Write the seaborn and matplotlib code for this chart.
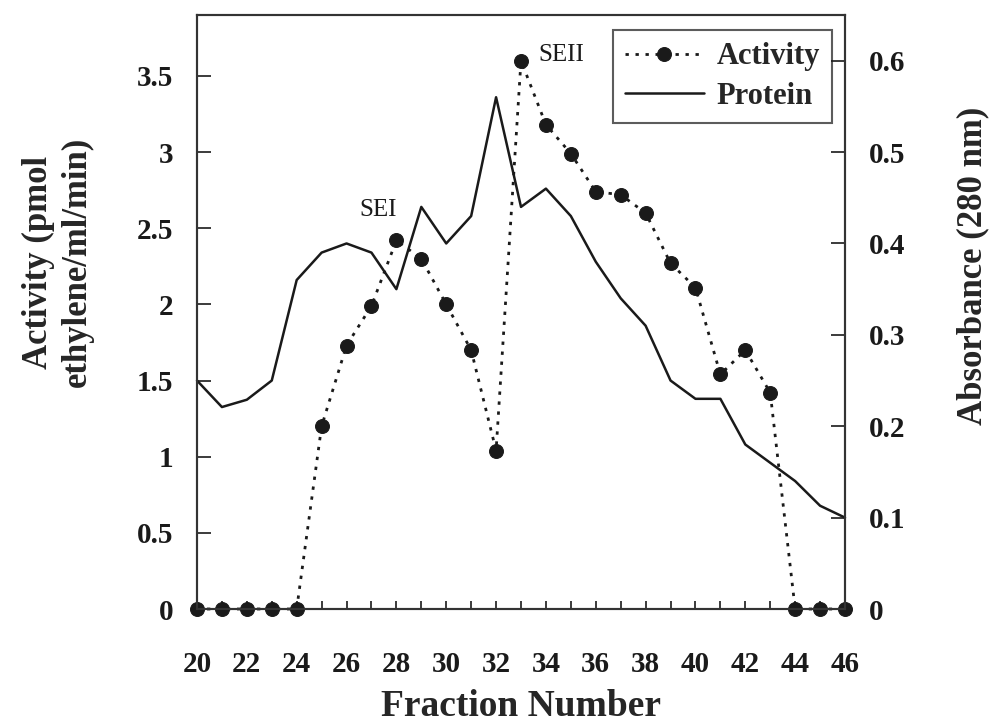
import matplotlib
matplotlib.use("Agg")
import matplotlib.pyplot as plt
import seaborn as sns
import numpy as np
import pandas as pd

fractions = [20, 21, 22, 23, 24, 25, 26, 27, 28, 29, 30, 31, 32, 33,
             34, 35, 36, 37, 38, 39, 40, 41, 42, 43, 44, 45, 46]
activity = [0, 0, 0, 0, 0, 1.2, 1.73, 1.99, 2.42, 2.3, 2.0, 1.7, 1.04, 3.6,
            3.18, 2.99, 2.74, 2.72, 2.6, 2.27, 2.11, 1.54, 1.7, 1.42, 0, 0, 0]
protein = [0.25, 0.221, 0.229, 0.25, 0.36, 0.39, 0.40, 0.39, 0.35, 0.44, 0.40,
           0.43, 0.56, 0.44, 0.46, 0.43, 0.38, 0.34, 0.31, 0.25, 0.23, 0.23,
           0.18, 0.16, 0.14, 0.113, 0.10]
left_ticks = [0, 0.5, 1, 1.5, 2, 2.5, 3, 3.5]
left_labels = ["0", "0.5", "1", "1.5", "2", "2.5", "3", "3.5"]
right_ticks = [0, 0.1, 0.2, 0.3, 0.4, 0.5, 0.6]
right_labels = ["0", "0.1", "0.2", "0.3", "0.4", "0.5", "0.6"]
x_major = list(range(20, 47, 2))
x_minor = list(range(20, 47, 1))

sns.set_style("ticks")
plt.rcParams['font.family'] = ['Liberation Serif', 'DejaVu Serif']
plt.rcParams['font.weight'] = 'bold'

df = pd.DataFrame({"Fraction": fractions, "Activity": activity, "Protein": protein})

fig = plt.figure(figsize=(9.92, 7.22), dpi=100)
ax = fig.add_axes([197/992, 1-609/722, (845-197)/992, (609-15)/722])
ax2 = ax.twinx()

ink = "#1a1a1a"
sns.lineplot(data=df, x="Fraction", y="Protein", ax=ax2, color=ink, lw=1.8,
             label="Protein", legend=False)
sns.lineplot(data=df, x="Fraction", y="Activity", ax=ax, color=ink, lw=2.0,
             linestyle=(0, (1.2, 2.4)), marker="o", markersize=10,
             markeredgecolor=ink, markerfacecolor=ink, label="Activity",
             legend=False, clip_on=False, zorder=5)
for ln in ax.lines + ax2.lines:
    ln.set_clip_on(False)

ax.set_xlim(20, 46)
ax.set_ylim(0, 3.9)
ax2.set_ylim(0, 0.65)

ax.set_xticks(x_major)
ax.set_xticklabels([str(v) for v in x_major], fontsize=21, fontweight='bold')
ax.set_xticks(x_minor, minor=True)
ax.set_yticks(left_ticks)
ax.set_yticklabels(left_labels, fontsize=21, fontweight='bold')
ax2.set_yticks(right_ticks)
ax2.set_yticklabels(right_labels, fontsize=21, fontweight='bold')

ax.tick_params(axis='x', which='both', direction='in', length=6, width=1.2,
               pad=30, colors=ink)
ax.tick_params(axis='y', direction='in', length=10, width=1.2, pad=17, colors=ink)
ax2.tick_params(axis='y', direction='in', length=10, width=1.2, pad=17, colors=ink)
ax.tick_params(axis='x', which='minor', length=6)

for a in (ax, ax2):
    for s in a.spines.values():
        s.set_visible(True)
        s.set_linewidth(1.5)
        s.set_color("#333333")

ax.set_xlabel("Fraction Number", fontsize=27, fontweight='bold', labelpad=8)
ax.set_ylabel("Activity (pmol\nethylene/ml/min)", fontsize=25, fontweight='bold',
              va='center', ha='center', linespacing=1.25)
ax.yaxis.set_label_coords(-0.215, 0.584)
ax2.set_ylabel("Absorbance (280 nm)", fontsize=25, fontweight='bold',
               va='center', ha='center')
ax2.yaxis.set_label_coords(1.198, 0.577)

ax.text(27.27, 2.62, "SEI", fontsize=18, fontweight='normal', ha='center',
        va='center', color=ink)
ax.text(34.63, 3.64, "SEII", fontsize=18, fontweight='normal', ha='center',
        va='center', color=ink)

handles = [ax.lines[0], ax2.lines[0]]
leg = ax.legend(handles, ["Activity", "Protein"], loc='upper right',
                bbox_to_anchor=((832-197)/648, (609-30)/594),
                borderaxespad=0, fancybox=False, frameon=True,
                prop={'size': 22, 'weight': 'bold'}, handlelength=2.6,
                handletextpad=0.4, borderpad=0.4, labelspacing=0.35)
leg.get_frame().set_edgecolor("#333333")
leg.get_frame().set_linewidth(1.5)
leg.set_zorder(10)

fig.savefig("out.png", dpi=100)
